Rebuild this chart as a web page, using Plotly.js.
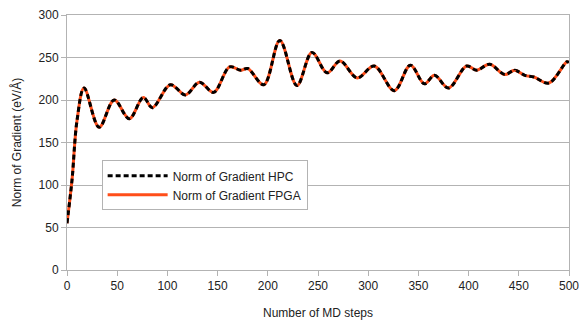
<!DOCTYPE html>
<html>
<head>
<meta charset="utf-8">
<script src="https://cdn.plot.ly/plotly-3.0.1.min.js"></script>
<style>html,body{margin:0;padding:0;background:#fff;}#chart{width:579px;height:322px;}</style>
</head>
<body>
<div id="chart"></div>
<script>
// MD step numbers
const steps = [0, 5, 10, 17, 32, 47, 62, 76, 85, 103, 118, 132, 146, 162, 173, 180, 196, 212, 229, 244, 259, 272, 289, 306, 326, 342, 356, 366, 380, 398, 408, 421, 436, 446, 456, 465, 480, 498, 500];
// Norm of gradient, HPC run
const hpc = [55, 106, 176, 214, 168, 200, 178, 203, 191, 218, 206, 221, 209, 239, 235, 237, 218, 270, 217, 256, 232, 246, 226, 240, 211, 241, 219, 229, 214, 240, 235, 242, 230, 235, 229, 227, 220, 245, 244];
// Norm of gradient, FPGA run
const fpga = [55, 106, 176, 214, 168, 200, 178, 203, 191, 218, 206, 221, 209, 239, 235, 237, 218, 270, 217, 256, 232, 246, 226, 240, 211, 241, 219, 229, 214, 240, 235, 242, 230, 235, 229, 227, 220, 245, 244];
const xTicks = [0, 50, 100, 150, 200, 250, 300, 350, 400, 450, 500];
const yTicks = [0, 50, 100, 150, 200, 250, 300];

const font = {family: "Liberation Sans, Arial, sans-serif", size: 12, color: "#222"};
const traces = [
  {x: steps, y: fpga, name: "Norm of Gradient FPGA", mode: "lines",
   line: {color: "#ff4e1a", width: 3, shape: "spline", smoothing: 1}, legendrank: 2},
  {x: steps, y: hpc, name: "Norm of Gradient HPC", mode: "lines",
   line: {color: "#000000", width: 3, dash: "5px,3px", shape: "spline", smoothing: 1}, legendrank: 1}
];
const layout = {
  width: 579, height: 322,
  margin: {l: 67, r: 10, t: 15, b: 52},
  paper_bgcolor: "#fff", plot_bgcolor: "#fff",
  font: font,
  showlegend: true,
  legend: {x: 0.069, y: 0.43, xanchor: "left", yanchor: "top",
    bgcolor: "#fff", bordercolor: "#b3b3b3", borderwidth: 1,
    font: {family: font.family, size: 12, color: "#222"},
    itemwidth: 60, tracegroupgap: 0, traceorder: "normal"},
  xaxis: {range: [0, 500], tickvals: xTicks, ticktext: xTicks.map(String),
    showgrid: false, zeroline: false, showline: true, mirror: true,
    linecolor: "#b3b3b3", linewidth: 1, ticks: "outside", ticklen: 5, tickcolor: "#b3b3b3",
    tickfont: font, ticklabeloverflow: "allow",
    title: {text: "Number of MD steps", font: {family: font.family, size: 12, color: "#222"}, standoff: 16}},
  yaxis: {range: [0, 300], tickvals: yTicks, ticktext: yTicks.map(String),
    showgrid: true, gridcolor: "#b3b3b3", gridwidth: 1, zeroline: false,
    showline: true, mirror: true, linecolor: "#b3b3b3", linewidth: 1,
    ticks: "outside", ticklen: 5, tickcolor: "#b3b3b3", tickfont: font, ticklabeloverflow: "allow",
    title: {text: "Norm of Gradient (eV/Å)", font: {family: font.family, size: 12, color: "#222"}, standoff: 14}}
};
Plotly.newPlot("chart", traces, layout, {staticPlot: true, displayModeBar: false});
</script>
</body>
</html>
